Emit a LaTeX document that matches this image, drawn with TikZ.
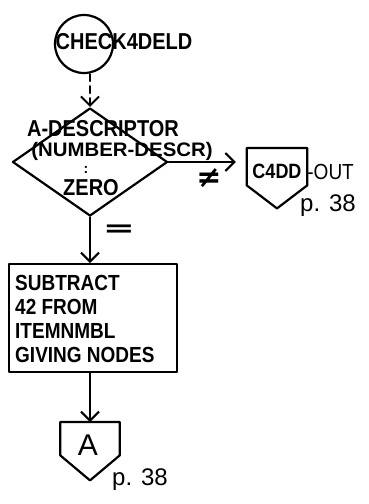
\documentclass[tikz,border=0pt]{standalone}
\usepackage{fontspec}
\usepackage{graphicx}
\setmainfont{Liberation Sans}
\newfontfamily\djv{DejaVu Sans}
\newcommand\tallbox[1]{\scalebox{1}[1.15]{#1}}
\usetikzlibrary{arrows.meta,shapes.geometric}
\tikzset{
  ln/.style={line width=2.2pt,line cap=round,line join=round},
  tip/.style={-{Straight Barb[length=9pt,width=18pt,line width=2pt]}},
  hw/.style={inner sep=0pt},
  fs/.style={font=\fontsize{#1}{#1}\selectfont\bfseries},
  fr/.style={font=\fontsize{#1}{#1}\selectfont},
}
\begin{document}
\begin{tikzpicture}[x=1pt,y=-1pt]
\useasboundingbox (0,0) rectangle (368,504);
% start circle
\node[ln,draw,circle,minimum size=58pt,inner sep=0pt] (start) at (84,44) {};
\node[hw,fs=20] (startlbl) at (124,42) {\tallbox{CHECK4DELD}};
% decision
\node[ln,draw,diamond,minimum width=155pt,minimum height=108pt,inner sep=0pt] (d) at (90,162) {};
\node[hw,fs=20] (d1) at (103,129) {\tallbox{A-DESCRIPTOR}};
\node[hw,fs=17] (d2) at (122,151) {\scalebox{1.2}[1.15]{(NUMBER-DESCR)}};
\node[hw,fs=14] (d3) at (86,170) {:};
\node[hw,fs=20] (d4) at (91,188) {\tallbox{ZERO}};
\draw[ln,dashed,dash pattern=on 7pt off 5pt,tip] (start.south -| d.north) -- (d.north);
% off-page connector C4DD
\node[minimum width=60pt,minimum height=37pt,anchor=north,inner sep=0pt] (c4) at (277,148) {};
\draw[ln] (c4.north west) -- (c4.north east) -- (c4.south east) -- ([yshift=-23pt]c4.south) -- (c4.south west) -- cycle;
\node[hw,fs=18] (c4lbl) at (277,171) {\tallbox{C4DD}};
\node[hw,anchor=west,fr=19] (c4out) at (c4.east |- 0,172) {\tallbox{-OUT}};
\node[hw,fr=24] (c4p) at (328,206) {p. 38};
\draw[ln,tip,shorten >=11pt] (d.east) -- (d.east -| c4.west);
\node[hw,font=\djv\bfseries\fontsize{30}{30}\selectfont] (ne) at (209,178) {≠};
% process box
\node[ln,draw,minimum width=168pt,minimum height=108pt,anchor=north west,inner sep=0pt] (sub) at (8,263) {};
\node[hw,fs=19,anchor=west] (s1) at (15,283) {\tallbox{SUBTRACT}};
\node[hw,fs=19,anchor=west] (s2) at (15,307) {\tallbox{42 FROM}};
\node[hw,fs=19,anchor=west] (s3) at (15,331) {\tallbox{ITEMNMBL}};
\node[hw,fs=19,anchor=west] (s4) at (15,355) {\tallbox{GIVING NODES}};
\draw[ln,tip] (d.south) -- (sub.north -| d.south);
\node[hw,font=\djv\bfseries\fontsize{24}{24}\selectfont] (eq) at (119,231) {\scalebox{1.6}[1]{=}};
% off-page connector A
\node[minimum width=59pt,minimum height=33pt,anchor=north,inner sep=0pt] (a) at (90,422) {};
\draw[ln] (a.north west) -- (a.north east) -- (a.south east) -- ([yshift=-25pt]a.south) -- (a.south west) -- cycle;
\node[hw,fr=30] (albl) at (88,445) {A};
\node[hw,fr=24] (ap) at (140,480) {p. 38};
\draw[ln,tip] (sub.south -| a.north) -- (a.north);
\end{tikzpicture}
\end{document}
